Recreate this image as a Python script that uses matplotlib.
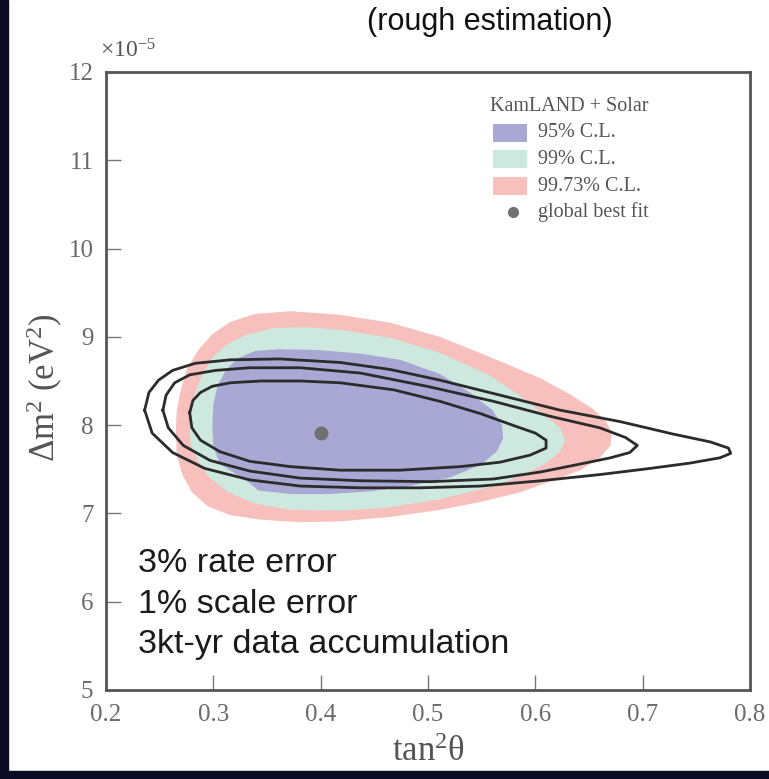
import matplotlib
matplotlib.use('Agg')
import matplotlib.pyplot as plt
from matplotlib.patches import Rectangle

plt.rcParams['mathtext.fontset'] = 'custom'
plt.rcParams['mathtext.rm'] = 'Liberation Serif'
plt.rcParams['mathtext.it'] = 'Liberation Serif:italic'

# contour outlines: tan^2(theta), dm^2 [1e-5 eV^2]
cl9973_x = [0.265, 0.266, 0.270, 0.276, 0.286, 0.299, 0.316, 0.339, 0.372, 0.418, 0.465,
            0.511, 0.558, 0.605, 0.632, 0.653, 0.665, 0.671, 0.670, 0.660, 0.642, 0.618,
            0.586, 0.549, 0.511, 0.465, 0.418, 0.381, 0.344, 0.316, 0.295, 0.280, 0.271, 0.266]
cl9973_y = [7.93, 8.17, 8.42, 8.65, 8.85, 9.03, 9.17, 9.26, 9.29, 9.25, 9.16,
            9.00, 8.77, 8.53, 8.35, 8.19, 8.06, 7.92, 7.77, 7.63, 7.49, 7.38,
            7.24, 7.13, 7.04, 6.96, 6.91, 6.90, 6.93, 6.98, 7.08, 7.24, 7.44, 7.66]

cl99_x = [0.278, 0.279, 0.283, 0.290, 0.299, 0.312, 0.330, 0.356, 0.386, 0.418, 0.465,
          0.511, 0.558, 0.586, 0.609, 0.623, 0.628, 0.623, 0.609, 0.586, 0.558, 0.511,
          0.465, 0.418, 0.372, 0.339, 0.314, 0.295, 0.284, 0.279]
cl99_y = [7.91, 8.14, 8.37, 8.58, 8.76, 8.91, 9.02, 9.10, 9.11, 9.08, 8.99,
          8.82, 8.56, 8.33, 8.11, 7.97, 7.83, 7.70, 7.56, 7.42, 7.30, 7.16,
          7.07, 7.03, 7.04, 7.11, 7.24, 7.42, 7.63, 7.78]

cl95_x = [0.299, 0.300, 0.304, 0.312, 0.323, 0.339, 0.362, 0.399, 0.437, 0.474, 0.511,
          0.539, 0.560, 0.569, 0.570, 0.564, 0.549, 0.521, 0.483, 0.446, 0.409, 0.372,
          0.342, 0.330, 0.306, 0.300]
cl95_y = [7.98, 8.23, 8.45, 8.63, 8.76, 8.84, 8.86, 8.85, 8.81, 8.74, 8.58,
          8.37, 8.17, 8.00, 7.85, 7.70, 7.55, 7.41, 7.31, 7.25, 7.22, 7.22,
          7.26, 7.38, 7.56, 7.76]

# black contours (3kt-yr projection)
inner_x = [0.278, 0.281, 0.288, 0.299, 0.316, 0.344, 0.381, 0.418, 0.468, 0.511, 0.549,
           0.581, 0.600, 0.610, 0.610, 0.595, 0.567, 0.530, 0.474, 0.418, 0.372, 0.334,
           0.306, 0.288, 0.280, 0.278]
inner_y = [8.14, 8.28, 8.37, 8.44, 8.48, 8.50, 8.50, 8.48, 8.40, 8.27, 8.13,
           7.99, 7.91, 7.83, 7.74, 7.66, 7.58, 7.53, 7.49, 7.49, 7.53, 7.59,
           7.70, 7.83, 7.97, 8.14]

middle_x = [0.253, 0.256, 0.264, 0.278, 0.302, 0.334, 0.381, 0.437, 0.499, 0.561, 0.614,
            0.660, 0.684, 0.695, 0.688, 0.670, 0.642, 0.605, 0.561, 0.502, 0.437, 0.381,
            0.334, 0.297, 0.272, 0.258, 0.253]
middle_y = [8.17, 8.34, 8.48, 8.57, 8.62, 8.65, 8.65, 8.59, 8.44, 8.27, 8.10,
            7.97, 7.86, 7.77, 7.69, 7.63, 7.56, 7.47, 7.39, 7.36, 7.37, 7.40,
            7.48, 7.60, 7.77, 7.97, 8.17]

outer_x = [0.236, 0.240, 0.249, 0.262, 0.283, 0.316, 0.362, 0.418, 0.465, 0.511, 0.567,
           0.623, 0.679, 0.728, 0.763, 0.780, 0.782, 0.772, 0.744, 0.707, 0.660, 0.605,
           0.549, 0.493, 0.437, 0.381, 0.334, 0.292, 0.262, 0.243, 0.236]
outer_y = [8.17, 8.37, 8.51, 8.62, 8.70, 8.74, 8.75, 8.71, 8.63, 8.51, 8.34,
           8.17, 8.04, 7.90, 7.81, 7.74, 7.68, 7.63, 7.57, 7.51, 7.44, 7.37,
           7.31, 7.29, 7.29, 7.31, 7.38, 7.51, 7.69, 7.91, 8.17]

best_x = [0.40]
best_y = [7.91]

x_ticks = [0.2, 0.3, 0.4, 0.5, 0.6, 0.7, 0.8]
y_ticks = [5, 6, 7, 8, 9, 10, 11, 12]

legend_labels = ['95% C.L.', '99% C.L.', '99.73% C.L.']
legend_colors = ['#a9a7d4', '#cde8df', '#f7c0bc']
notes = ['3% rate error', '1% scale error', '3kt-yr data accumulation']

fig = plt.figure(figsize=(7.69, 7.79), dpi=100)
fig.patch.set_facecolor('white')
# dark strips of the slide background
fig.add_artist(Rectangle((0, 0), 8 / 769, 1, transform=fig.transFigure, color='#0d0b22', zorder=0))
fig.add_artist(Rectangle((0, 0), 1, 8 / 779, transform=fig.transFigure, color='#0d0b22', zorder=0))

ax = fig.add_axes([106 / 769, 1 - 690 / 779, 644 / 769, 618 / 779])

ax.fill(cl9973_x, cl9973_y, color=legend_colors[2], lw=0)
ax.fill(cl99_x, cl99_y, color=legend_colors[1], lw=0)
ax.fill(cl95_x, cl95_y, color=legend_colors[0], lw=0)
for cx, cy in [(inner_x, inner_y), (middle_x, middle_y), (outer_x, outer_y)]:
    ax.plot(cx, cy, color='#2b2b2b', lw=2.0, solid_joinstyle='round')
ax.plot(best_x, best_y, 'o', color='#707070', ms=9)

ax.set_xlim(0.2, 0.8)
ax.set_ylim(5, 12)
ax.set_xticks(x_ticks)
ax.set_yticks(y_ticks)
ax.set_xticklabels([f'{v:.1f}' for v in x_ticks])
ax.set_yticklabels([str(v) for v in y_ticks])
ax.tick_params(direction='in', length=11, width=1, color='#777', labelcolor='#6a6a6a',
               labelsize=18, top=False, right=False)
ax.tick_params(axis='x', pad=10)
ax.tick_params(axis='y', pad=9)
for lab in ax.get_xticklabels() + ax.get_yticklabels():
    lab.set_fontfamily('Liberation Serif')
for sp in ax.spines.values():
    sp.set_color('#555')
    sp.set_linewidth(2)

ax.set_xlabel('tan$^2$θ', fontsize=25, color='#555', family='Liberation Serif')
ax.set_ylabel(r'$\Delta$m$^2$ (eV$^2$)', fontsize=25, color='#555', family='Liberation Serif')
ax.xaxis.set_label_coords(0.5, -0.075)
ax.yaxis.set_label_coords(-0.064, 0.49)

fig.text(100 / 769, 1 - 58 / 779, r'$\times10^{-5}$', fontsize=17, color='#555', va='baseline')
fig.text(490 / 769, 1 - 22 / 779, '(rough estimation)', fontsize=22, ha='center', va='center',
         family='Liberation Sans', color='#111')

# legend drawn by hand
ax.text(0.596, 0.9434, 'KamLAND + Solar', transform=ax.transAxes, fontsize=14.5,
        family='Liberation Serif', color='#555', va='center')
rows_y = [0.9013, 0.8592, 0.8155]
for lab, col, ry in zip(legend_labels, legend_colors, rows_y):
    ax.add_patch(Rectangle((0.601, ry - 0.0145), 0.0528, 0.029, transform=ax.transAxes,
                           color=col, lw=0))
    ax.text(0.671, ry, lab, transform=ax.transAxes, fontsize=14.5,
            family='Liberation Serif', color='#555', va='center')
ax.plot([0.632], [0.7735], 'o', color='#707070', ms=7, transform=ax.transAxes)
ax.text(0.671, 0.7735, 'global best fit', transform=ax.transAxes, fontsize=14.5,
        family='Liberation Serif', color='#555', va='center')

for note, ny in zip(notes, [0.191, 0.1246, 0.0599]):
    ax.text(0.0497, ny, note, transform=ax.transAxes, fontsize=24.5,
            family='Liberation Sans', color='#1a1a1a', va='baseline')

fig.savefig('out.png', dpi=100)
